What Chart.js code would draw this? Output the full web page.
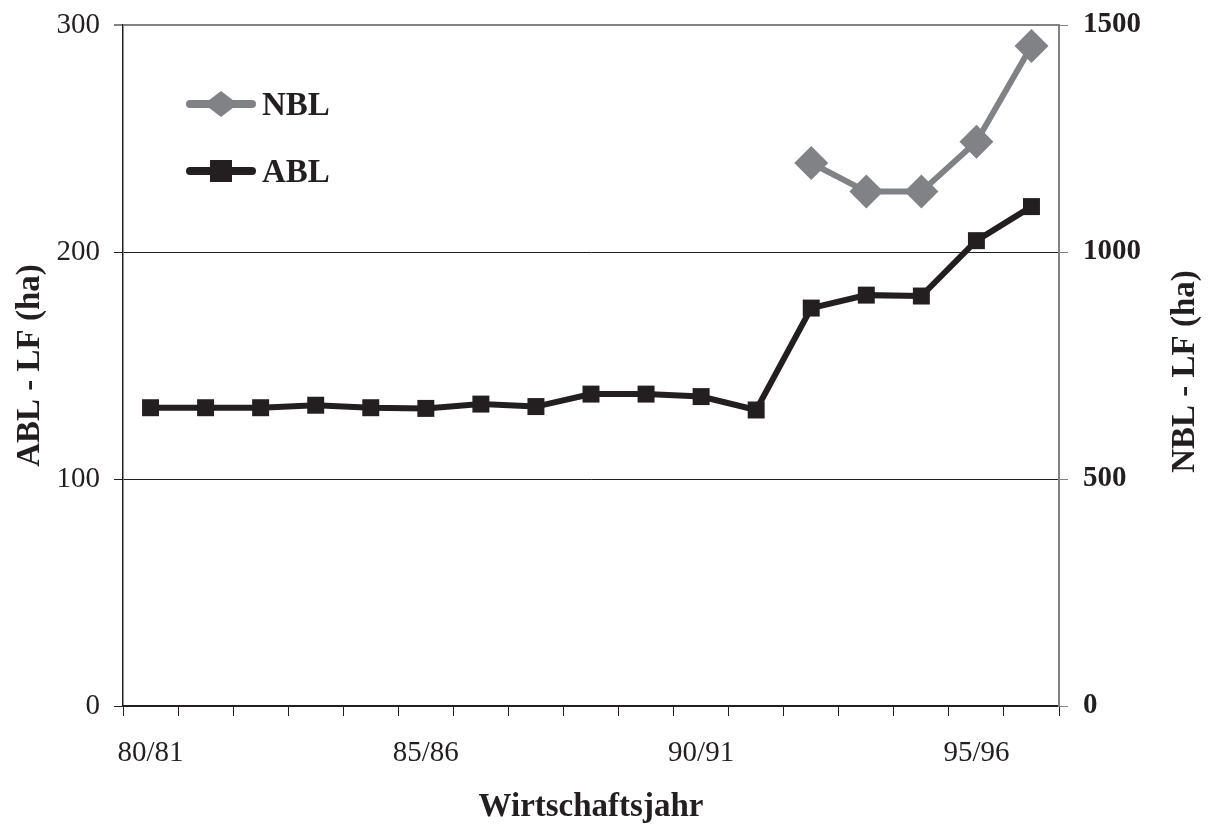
<!DOCTYPE html>
<html>
<head>
<meta charset="utf-8">
<script src="https://cdn.jsdelivr.net/npm/chart.js@4"></script>
<style>
  html, body { margin: 0; padding: 0; background: #fff; }
  #wrap { width: 1211px; height: 827px; }
</style>
</head>
<body>
<div id="wrap"><canvas id="c" width="1211" height="827"></canvas></div>
<script>
// Wirtschaftsjahre 1980/81 – 1996/97
const years = ['80/81','81/82','82/83','83/84','84/85','85/86','86/87','87/88','88/89',
               '89/90','90/91','91/92','92/93','93/94','94/95','95/96','96/97'];
const shownYears = ['80/81','85/86','90/91','95/96'];

// Landwirtschaftliche Fläche je Betrieb (ha)
const ablValues = [131.4, 131.4, 131.4, 132.5, 131.4, 131.1, 133.0, 131.9, 137.4,
                   137.4, 136.3, 130.4, 175.3, 181.0, 180.6, 205.0, 220.0];
const nblValues = [null, null, null, null, null, null, null, null, null,
                   null, null, null, 1196, 1133, 1133, 1243, 1454];

const leftTicks = [0, 100, 200, 300];
const rightTicks = [0, 500, 1000, 1500];

const DARK = '#231f20';
const GRAY = '#808285';
const SERIF = '"Liberation Serif", "Times New Roman", serif';

// Legend drawn inside the plot: a line sample with the marker in its middle,
// plus the right-hand axis title reading bottom-to-top
const extras = {
  id: 'extras',
  afterDraw(chart) {
    const ctx = chart.ctx;
    const items = [
      { label: 'NBL', color: GRAY, shape: 'diamond', y: 104 },
      { label: 'ABL', color: DARK, shape: 'square', y: 171 }
    ];
    ctx.save();
    items.forEach(it => {
      ctx.strokeStyle = it.color;
      ctx.lineWidth = 8;
      ctx.lineCap = 'round';
      ctx.beginPath();
      ctx.moveTo(190, it.y);
      ctx.lineTo(252, it.y);
      ctx.stroke();
      ctx.fillStyle = it.color;
      ctx.beginPath();
      if (it.shape === 'diamond') {
        ctx.moveTo(221, it.y - 13);
        ctx.lineTo(238, it.y);
        ctx.lineTo(221, it.y + 13);
        ctx.lineTo(204, it.y);
      } else {
        ctx.rect(210, it.y - 11, 22, 22);
      }
      ctx.closePath();
      ctx.fill();
      ctx.fillStyle = DARK;
      ctx.font = 'bold 33px ' + SERIF;
      ctx.textBaseline = 'middle';
      ctx.textAlign = 'left';
      ctx.fillText(it.label, 262, it.y + 2);
    });

    const area = chart.chartArea;
    ctx.translate(1185, (area.top + area.bottom) / 2 + 6);
    ctx.rotate(-Math.PI / 2);
    ctx.font = 'bold 33px ' + SERIF;
    ctx.textAlign = 'center';
    ctx.textBaseline = 'middle';
    ctx.fillStyle = DARK;
    ctx.fillText('NBL - LF (ha)', 0, 0);
    ctx.restore();
  }
};

function fixVertical(width) {
  return function (s) {
    s.width = width;
    s.paddingTop = 0;
    s.paddingBottom = 0;
  };
}

new Chart(document.getElementById('c'), {
  type: 'line',
  data: {
    labels: years,
    datasets: [
      {
        label: 'NBL',
        data: nblValues,
        yAxisID: 'yR',
        borderColor: GRAY,
        backgroundColor: GRAY,
        borderWidth: 6,
        pointStyle: 'rectRot',
        pointRadius: 17,
        pointBorderWidth: 0,
        spanGaps: false
      },
      {
        label: 'ABL',
        data: ablValues,
        yAxisID: 'yL',
        borderColor: DARK,
        backgroundColor: DARK,
        borderWidth: 6,
        pointStyle: 'rect',
        pointRadius: 12,
        pointBorderWidth: 0
      }
    ]
  },
  options: {
    responsive: false,
    animation: false,
    devicePixelRatio: 1,
    layout: { padding: { top: 25, right: 0, bottom: 0, left: 0 } },
    plugins: { legend: { display: false }, tooltip: { enabled: false } },
    scales: {
      x: {
        type: 'category',
        offset: true,
        afterFit(s) { s.height = 121; s.paddingLeft = 0; s.paddingRight = 0; },
        grid: {
          offset: true,
          drawOnChartArea: false,
          drawTicks: true,
          tickLength: 10,
          color: DARK,
          lineWidth: 1
        },
        border: { display: true, color: DARK, width: 2 },
        ticks: {
          autoSkip: false,
          maxRotation: 0,
          padding: 20,
          color: DARK,
          font: { family: SERIF, size: 29 },
          callback(v, i) {
            const lab = years[i];
            return shownYears.includes(lab) ? lab : '';
          }
        },
        title: {
          display: true,
          text: 'Wirtschaftsjahr',
          color: DARK,
          font: { family: SERIF, size: 33, weight: 'bold' },
          padding: { top: 8, bottom: 0 }
        }
      },
      yL: {
        position: 'left',
        min: 0,
        max: 300,
        afterFit: fixVertical(123),
        afterBuildTicks(s) { s.ticks = leftTicks.map(v => ({ value: v })); },
        grid: {
          drawOnChartArea: true,
          drawTicks: true,
          tickLength: 9,
          color(ctx) { return ctx.tick && ctx.tick.value === 300 ? GRAY : DARK; },
          lineWidth(ctx) { return ctx.tick && ctx.tick.value === 300 ? 2 : 1; }
        },
        border: { display: true, color: DARK, width: 1.5 },
        ticks: {
          padding: 14,
          color: DARK,
          font: { family: SERIF, size: 29 }
        },
        title: {
          display: true,
          text: 'ABL - LF (ha)',
          color: DARK,
          font: { family: SERIF, size: 33, weight: 'bold' },
          padding: { top: 11, bottom: 0 }
        }
      },
      yR: {
        position: 'right',
        min: 0,
        max: 1500,
        afterFit: fixVertical(152),
        afterBuildTicks(s) { s.ticks = rightTicks.map(v => ({ value: v })); },
        grid: {
          drawOnChartArea: false,
          drawTicks: true,
          tickLength: 9,
          color: GRAY,
          lineWidth: 1
        },
        border: { display: true, color: GRAY, width: 2 },
        ticks: {
          padding: 15,
          color: DARK,
          font: { family: SERIF, size: 29, weight: 'bold' },
          callback(v) { return String(v); }
        },
        title: { display: false }
      }
    }
  },
  plugins: [extras]
});
</script>
</body>
</html>
